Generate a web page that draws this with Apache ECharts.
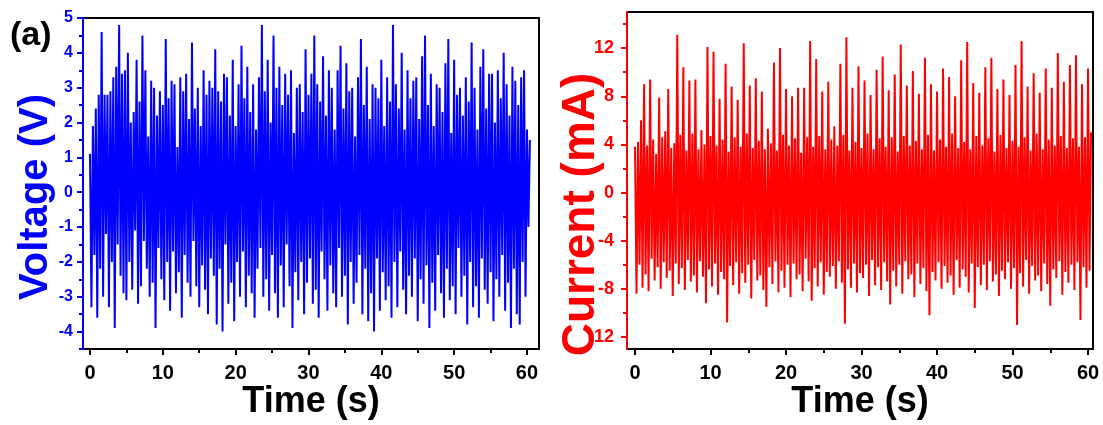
<!DOCTYPE html>
<html><head><meta charset="utf-8">
<script src="https://cdn.jsdelivr.net/npm/echarts@6/dist/echarts.min.js"></script>
<style>html,body{margin:0;padding:0;background:#fff}#c{width:1103px;height:425px}</style>
</head><body><div id="c"></div><script>
const DT = 0.2; // sampling step (s)
const voltage = [
1.1,-3.3,1.9,-1.8,2.4,-3.6,2.8,-2.2,4.6,-3.0,
2.8,-1.2,2.8,-3.3,2.9,-2.0,3.3,-3.9,3.6,-1.5,
4.8,-2.4,3.4,-2.9,3.5,-3.1,4.0,-2.0,2.0,-2.8,
2.3,-1.1,3.8,-3.2,2.6,-2.7,4.5,-1.4,3.5,-2.2,
1.6,-3.0,3.2,-2.6,3.0,-3.9,2.2,-1.6,2.9,-2.5,
2.5,-3.1,4.4,-2.0,2.7,-3.4,3.2,-1.7,3.1,-2.9,
1.3,-2.3,3.3,-3.6,2.9,-1.8,3.4,-2.6,2.1,-3.0,
4.3,-1.4,2.4,-2.7,3.0,-3.3,1.9,-2.1,3.5,-2.8,
2.8,-3.5,3.2,-1.9,3.0,-2.4,4.1,-3.8,2.9,-2.2,
2.6,-4.0,3.4,-1.5,3.3,-3.2,2.2,-2.6,3.8,-3.7,
1.9,-2.0,3.1,-3.0,4.2,-1.7,2.7,-3.3,3.6,-2.4,
2.3,-2.9,3.1,-3.6,1.8,-2.2,3.3,-1.6,4.8,-3.0,
2.9,-2.5,3.8,-3.4,2.0,-1.8,4.5,-2.9,3.0,-3.6,
3.6,-2.1,2.5,-3.3,3.4,-1.5,2.8,-2.7,3.5,-3.9,
1.7,-2.3,3.0,-3.1,3.1,-2.0,2.3,-3.5,4.1,-2.6,
2.8,-1.9,3.4,-3.2,4.5,-2.8,3.1,-3.6,2.6,-1.7,
3.9,-2.5,2.2,-3.4,3.5,-2.1,3.0,-2.9,1.8,-3.3,
3.5,-1.6,4.2,-3.0,2.4,-2.4,3.7,-3.8,2.9,-2.0,
3.0,-3.2,1.6,-2.6,3.3,-1.8,4.4,-3.5,2.5,-2.2,
3.6,-3.7,2.1,-2.9,3.1,-4.0,3.0,-1.9,2.7,-3.4,
3.8,-2.3,1.9,-3.1,3.3,-2.7,2.6,-3.6,4.8,-2.0,
3.1,-3.3,2.4,-1.7,4.0,-2.8,1.8,-3.5,3.5,-2.4,
2.7,-3.0,3.2,-1.9,3.3,-3.7,2.1,-2.5,3.9,-3.2,
4.5,-2.1,2.5,-3.9,3.4,-2.6,1.9,-3.4,3.1,-1.8,
3.0,-2.9,2.3,-3.6,3.7,-2.2,4.4,-3.1,1.7,-2.7,
3.8,-3.5,2.8,-1.6,3.0,-3.0,2.2,-2.4,3.3,-3.8,
2.6,-2.0,4.3,-3.3,3.0,-2.7,1.8,-3.6,3.6,-1.9,
4.1,-2.8,2.4,-3.2,3.4,-2.3,3.4,-3.7,2.0,-2.5,
3.5,-3.0,2.7,-1.8,4.0,-3.4,3.1,-2.6,2.2,-3.9,
3.6,-2.2,3.2,-3.5,2.5,-3.8,3.3,-2.0,3.5,-3.0,
1.8,-1.0,1.5
];
const currentPeaks = [
3.8,4.2,6.0,9.0,3.9,9.4,4.4,3.2,7.9,4.6,
5.1,8.6,3.7,4.1,13.1,4.8,10.4,3.5,9.3,4.9,
9.4,3.6,5.2,4.0,12.1,4.7,11.7,3.9,7.8,4.4,
10.7,3.4,8.8,4.6,7.7,3.8,12.4,4.9,8.9,3.7,
9.5,4.3,8.4,3.6,5.3,4.1,10.8,3.5,12.0,4.8,
8.6,3.9,8.0,4.5,8.7,3.3,8.7,4.6,12.6,3.8,
11.1,4.7,8.4,3.6,9.2,4.4,5.5,3.9,10.7,4.8,
12.9,3.5,8.7,4.2,10.5,3.7,9.3,4.9,8.1,3.6,
10.2,4.5,11.3,3.8,8.5,4.6,9.8,3.4,12.3,4.7,
8.9,3.9,10.1,4.3,8.2,3.6,11.2,4.8,9.0,3.5,
8.4,4.4,10.3,3.8,9.6,4.9,8.0,3.7,11.0,4.2,
12.5,3.6,9.1,4.7,8.3,3.9,10.4,4.5,11.2,3.4,
8.6,4.8,9.4,3.7,8.1,4.3,10.6,3.8,12.6,4.6,
8.8,3.5,9.9,4.9,8.3,3.6,10.3,4.4,8.7,3.9,
11.6,4.7,9.2,3.7,10.6,4.5,11.4,3.8,9.0,4.6,
10.3,5.0
];
const currentTroughs = [
-8.4,-6.0,-7.9,-6.8,-8.2,-5.5,-7.3,-6.2,-8.0,-5.8,
-7.1,-6.5,-8.6,-5.9,-7.6,-6.3,-8.1,-5.6,-7.4,-6.9,
-8.3,-5.7,-7.0,-9.2,-6.4,-7.8,-5.9,-8.5,-6.6,-7.2,
-10.8,-6.1,-7.7,-5.8,-8.4,-6.7,-7.5,-6.0,-8.8,-5.6,
-7.3,-6.9,-8.1,-9.5,-6.2,-7.6,-5.7,-8.3,-6.5,-7.9,
-6.0,-8.7,-5.9,-7.2,-6.8,-8.2,-5.5,-7.4,-9.0,-6.3,
-7.8,-5.8,-8.5,-6.6,-7.0,-6.1,-8.0,-5.7,-7.5,-10.9,
-6.4,-7.9,-5.9,-8.3,-6.7,-7.1,-6.0,-8.6,-5.6,-7.7,
-6.2,-8.1,-5.8,-7.4,-9.3,-6.5,-7.8,-6.0,-8.4,-5.7,
-7.2,-6.8,-8.7,-5.9,-7.6,-6.3,-8.2,-10.2,-6.6,-7.3,
-5.8,-8.0,-6.1,-7.5,-6.9,-8.5,-5.6,-7.9,-6.4,-7.0,
-8.3,-5.9,-9.6,-6.2,-7.7,-6.0,-8.1,-5.7,-7.4,-6.8,
-8.6,-6.5,-7.2,-5.8,-8.0,-6.3,-11.0,-6.7,-7.8,-5.6,
-8.4,-6.1,-7.3,-6.9,-8.2,-5.9,-7.6,-9.4,-6.4,-7.1,
-5.7,-8.5,-6.6,-7.5,-6.0,-8.1,-5.8,-10.6,-6.2,-7.9,
-6.5
];
const timeTicks = [0,10,20,30,40,50,60];
const timeMinorTicks = [5,15,25,35,45,55];
const voltTicks = [-4,-3,-2,-1,0,1,2,3,4,5];
const voltMinorTicks = [-4.5,-3.5,-2.5,-1.5,-0.5,0.5,1.5,2.5,3.5,4.5];
const currTicks = [-12,-8,-4,0,4,8,12];
const currMinorTicks = [-10,-6,-2,2,6,10,14];

const current = [];
for (let i = 0; i < currentPeaks.length; i++) {
  current.push(currentPeaks[i]);
  if (i < currentTroughs.length) current.push(currentTroughs[i]);
}
const vData = voltage.map((v, i) => [+(i * DT).toFixed(2), v]);
const cData = current.map((v, i) => [+(i * DT).toFixed(2), v]);

const FF = '"Liberation Sans", Arial, sans-serif';
const BLUE = '#0000ff', RED = '#ff0000';

function xAxes(g, min, max) {
  return [
    { gridIndex: g, type: 'value', min, max, position: 'bottom', z: 3,
      axisLine: { show: true, onZero: false, lineStyle: { color: '#000', width: 2 } },
      axisTick: { show: true, customValues: timeTicks, length: 6, lineStyle: { color: '#000', width: 2 } },
      axisLabel: { customValues: timeTicks, fontSize: 20, fontWeight: 'bold', color: '#000', margin: 14, fontFamily: FF },
      splitLine: { show: false },
      name: 'Time (s)', nameLocation: 'middle', nameGap: 35, nameMoveOverlap: false,
      nameTextStyle: { fontSize: 36, fontWeight: 'bold', color: '#000', fontFamily: FF } },
    { gridIndex: g, type: 'value', min, max, position: 'bottom', z: 3,
      axisLine: { show: false, onZero: false },
      axisTick: { show: true, customValues: timeMinorTicks, length: 4, lineStyle: { color: '#000', width: 2 } },
      axisLabel: { show: false }, splitLine: { show: false } },
    { gridIndex: g, type: 'value', min, max, position: 'top', z: 3,
      axisLine: { show: true, onZero: false, lineStyle: { color: '#000', width: 2 } },
      axisTick: { show: false }, axisLabel: { show: false }, splitLine: { show: false } }
  ];
}
function yAxes(g, min, max, ticks, minor, color, name, nameSize, labelSize, gap, margin, shift) {
  return [
    { gridIndex: g, type: 'value', min, max, position: 'left', z: 4,
      axisLine: { show: true, onZero: false, lineStyle: { color, width: 2 } },
      axisTick: { show: true, customValues: ticks, length: 6, lineStyle: { color, width: 2 } },
      axisLabel: { customValues: ticks, fontSize: labelSize, fontWeight: 'bold', color, margin, fontFamily: FF },
      splitLine: { show: false } },
    { gridIndex: g, type: 'value', min, max, position: 'left', z: 3,
      axisLine: { show: false, onZero: false },
      axisTick: { show: true, customValues: minor, length: 4, lineStyle: { color, width: 2 } },
      axisLabel: { show: false }, splitLine: { show: false },
      name, nameLocation: 'middle', nameGap: gap, nameMoveOverlap: false,
      nameTextStyle: { fontSize: nameSize, fontWeight: 'bold', color, fontFamily: FF, padding: [0, shift, 0, 0] } },
    { gridIndex: g, type: 'value', min, max, position: 'right', z: 3,
      axisLine: { show: true, onZero: false, lineStyle: { color: '#000', width: 2 } },
      axisTick: { show: false }, axisLabel: { show: false }, splitLine: { show: false } }
  ];
}

const chart = echarts.init(document.getElementById('c'), null, { renderer: 'canvas' });
chart.setOption({
  animation: false,
  backgroundColor: '#fff',
  title: { text: '(a)', left: 5, top: 14, textStyle: { fontSize: 34, fontWeight: 'bold', color: '#000', fontFamily: FF } },
  grid: [
    { left: 83, top: 18, width: 456, height: 335 },
    { left: 627, top: 12, width: 466, height: 342 }
  ],
  xAxis: [...xAxes(0, -0.96, 61.65), ...xAxes(1, -1.06, 60.66)],
  yAxis: [
    ...yAxes(0, -4.5, 5, voltTicks, voltMinorTicks, BLUE, 'Voltage (V)', 40, 16, 27, 10, 27),
    ...yAxes(1, -13, 15, currTicks, currMinorTicks, RED, 'Current (mA)', 46, 18, 23, 13, 68)
  ],
  series: [
    { type: 'line', xAxisIndex: 0, yAxisIndex: 0, data: vData, showSymbol: false, symbol: 'none',
      sampling: 'none', lineStyle: { color: BLUE, width: 2 }, itemStyle: { color: BLUE }, z: 1 },
    { type: 'line', xAxisIndex: 3, yAxisIndex: 3, data: cData, showSymbol: false, symbol: 'none',
      sampling: 'none', lineStyle: { color: RED, width: 2 }, itemStyle: { color: RED }, z: 1 }
  ]
});
</script></body></html>
